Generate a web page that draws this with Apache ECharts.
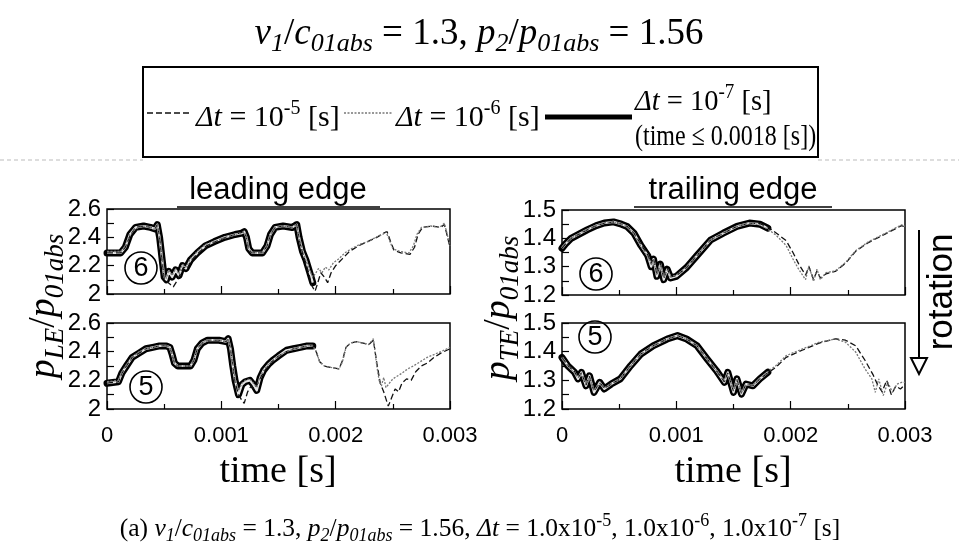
<!DOCTYPE html>
<html>
<head>
<meta charset="utf-8">
<script src="https://cdn.jsdelivr.net/npm/echarts@6/dist/echarts.min.js"></script>
<style>
  html, body { margin: 0; padding: 0; background: #fff; }
  #chart { width: 959px; height: 549px; }
</style>
</head>
<body>
<div id="chart"></div>
<script>
// ---- time axis ticks (s) ----
const timeTicks = [0, 0.001, 0.002, 0.003];

// ---- leading edge, blade (6): [time s, p_LE/p_01abs] ----
const leTop_dt7 = [[0,2.29],[0.00012,2.29],[0.00016,2.33],[0.0002,2.42],[0.00025,2.47],[0.00032,2.48],[0.00038,2.47],[0.00042,2.46],[0.00044,2.49],[0.00046,2.40],[0.00048,2.26],[0.0005,2.12],[0.00052,2.10],[0.00054,2.16],[0.00057,2.12],[0.0006,2.17],[0.00063,2.13],[0.00066,2.20],[0.00069,2.18],[0.00073,2.24],[0.00079,2.29],[0.00086,2.34],[0.00094,2.37],[0.00103,2.40],[0.00112,2.42],[0.00118,2.43],[0.0012,2.44],[0.00122,2.40],[0.00124,2.32],[0.00127,2.29],[0.00136,2.29],[0.0014,2.34],[0.00143,2.42],[0.00147,2.47],[0.00154,2.48],[0.00162,2.47],[0.00166,2.49],[0.00168,2.40],[0.00171,2.30],[0.00174,2.24],[0.00177,2.16],[0.0018,2.08]];
const leTop_dt6 = [[0,2.30],[0.00012,2.30],[0.00016,2.34],[0.0002,2.42],[0.00025,2.46],[0.00032,2.48],[0.00038,2.47],[0.00042,2.45],[0.00044,2.48],[0.00046,2.41],[0.00048,2.27],[0.0005,2.14],[0.00052,2.11],[0.00054,2.17],[0.00057,2.13],[0.0006,2.18],[0.00063,2.14],[0.00066,2.21],[0.00069,2.19],[0.00073,2.25],[0.00079,2.30],[0.00086,2.35],[0.00094,2.37],[0.00103,2.40],[0.00112,2.42],[0.00118,2.43],[0.0012,2.44],[0.00122,2.40],[0.00124,2.32],[0.00127,2.29],[0.00136,2.29],[0.0014,2.35],[0.00143,2.42],[0.00147,2.47],[0.00154,2.48],[0.00162,2.47],[0.00166,2.49],[0.00168,2.40],[0.00171,2.31],[0.00174,2.24],[0.00177,2.17],[0.0018,2.12],[0.00182,2.14],[0.00185,2.18],[0.00188,2.15],[0.00191,2.19],[0.00194,2.17],[0.00198,2.22],[0.00203,2.25],[0.00208,2.29],[0.00214,2.32],[0.00221,2.35],[0.00228,2.37],[0.00235,2.40],[0.00241,2.42],[0.00244,2.44],[0.00247,2.38],[0.0025,2.32],[0.00256,2.30],[0.00264,2.29],[0.00268,2.34],[0.00271,2.42],[0.00275,2.47],[0.00283,2.48],[0.00291,2.47],[0.00295,2.50],[0.00297,2.44],[0.003,2.34]];
const leTop_dt5 = [[0,2.29],[0.00012,2.29],[0.00016,2.33],[0.0002,2.41],[0.00025,2.47],[0.00032,2.48],[0.00038,2.47],[0.00042,2.46],[0.00044,2.49],[0.00046,2.40],[0.00048,2.25],[0.0005,2.11],[0.00052,2.09],[0.00055,2.07],[0.00058,2.05],[0.00061,2.09],[0.00064,2.14],[0.00067,2.19],[0.0007,2.18],[0.00074,2.24],[0.0008,2.29],[0.00087,2.34],[0.00095,2.37],[0.00104,2.40],[0.00112,2.42],[0.0012,2.44],[0.00122,2.40],[0.00124,2.31],[0.00127,2.29],[0.00136,2.29],[0.0014,2.34],[0.00143,2.42],[0.00147,2.47],[0.00154,2.48],[0.00162,2.47],[0.00166,2.49],[0.00168,2.39],[0.00171,2.29],[0.00174,2.22],[0.00177,2.13],[0.00179,2.06],[0.00182,2.02],[0.00184,2.07],[0.00187,2.15],[0.0019,2.12],[0.00193,2.08],[0.00196,2.15],[0.002,2.20],[0.00206,2.25],[0.00212,2.30],[0.0022,2.34],[0.00228,2.37],[0.00236,2.40],[0.00242,2.43],[0.00245,2.44],[0.00248,2.37],[0.00251,2.31],[0.00257,2.29],[0.00265,2.28],[0.00269,2.33],[0.00272,2.42],[0.00276,2.47],[0.00284,2.48],[0.00292,2.47],[0.00295,2.49],[0.00297,2.43],[0.003,2.33]];

// ---- leading edge, blade (5) ----
const leBot_dt7 = [[0,2.18],[0.0001,2.19],[0.00013,2.25],[0.00017,2.30],[0.00022,2.36],[0.00028,2.39],[0.00034,2.42],[0.0004,2.43],[0.00046,2.44],[0.00052,2.44],[0.00055,2.43],[0.00057,2.38],[0.00059,2.32],[0.00062,2.30],[0.00073,2.30],[0.00076,2.34],[0.00079,2.42],[0.00083,2.46],[0.00088,2.48],[0.00098,2.48],[0.00104,2.47],[0.00106,2.49],[0.00108,2.42],[0.0011,2.30],[0.00112,2.20],[0.00115,2.10],[0.00118,2.17],[0.00121,2.19],[0.00125,2.20],[0.00128,2.17],[0.00131,2.13],[0.00134,2.22],[0.00137,2.27],[0.00141,2.31],[0.00145,2.34],[0.0015,2.37],[0.00157,2.41],[0.00163,2.42],[0.00169,2.43],[0.00175,2.44],[0.0018,2.44]];
const leBot_dt6 = [[0,2.19],[0.0001,2.20],[0.00013,2.26],[0.00017,2.31],[0.00022,2.36],[0.00028,2.40],[0.00034,2.42],[0.0004,2.43],[0.00046,2.44],[0.00052,2.44],[0.00055,2.43],[0.00057,2.38],[0.00059,2.32],[0.00062,2.30],[0.00073,2.30],[0.00076,2.35],[0.00079,2.42],[0.00083,2.46],[0.00088,2.48],[0.00098,2.48],[0.00104,2.47],[0.00106,2.49],[0.00108,2.42],[0.0011,2.31],[0.00112,2.21],[0.00115,2.13],[0.00118,2.18],[0.00121,2.20],[0.00125,2.21],[0.00128,2.18],[0.00131,2.15],[0.00134,2.23],[0.00137,2.27],[0.00141,2.31],[0.00145,2.34],[0.0015,2.37],[0.00157,2.40],[0.00163,2.42],[0.00169,2.43],[0.00175,2.44],[0.0018,2.44],[0.00183,2.40],[0.00186,2.33],[0.0019,2.30],[0.00196,2.29],[0.00203,2.28],[0.00206,2.33],[0.00209,2.43],[0.00213,2.46],[0.00218,2.47],[0.00224,2.46],[0.00229,2.45],[0.00233,2.49],[0.00236,2.30],[0.00238,2.20],[0.0024,2.16],[0.00242,2.22],[0.00244,2.15],[0.00247,2.18],[0.0025,2.21],[0.00254,2.23],[0.00258,2.25],[0.00263,2.28],[0.00268,2.30],[0.00274,2.33],[0.0028,2.36],[0.00286,2.38],[0.00292,2.40],[0.003,2.43]];
const leBot_dt5 = [[0,2.18],[0.0001,2.19],[0.00013,2.25],[0.00017,2.30],[0.00022,2.36],[0.00028,2.39],[0.00034,2.42],[0.0004,2.43],[0.00046,2.44],[0.00052,2.44],[0.00055,2.43],[0.00057,2.38],[0.00059,2.32],[0.00062,2.30],[0.00073,2.30],[0.00076,2.34],[0.00079,2.42],[0.00083,2.46],[0.00088,2.48],[0.00098,2.48],[0.00104,2.47],[0.00106,2.49],[0.00108,2.42],[0.0011,2.30],[0.00112,2.19],[0.00115,2.10],[0.00118,2.06],[0.0012,2.04],[0.00123,2.12],[0.00126,2.16],[0.00129,2.14],[0.00132,2.18],[0.00135,2.23],[0.00139,2.28],[0.00144,2.33],[0.0015,2.37],[0.00157,2.40],[0.00163,2.42],[0.00169,2.43],[0.00175,2.44],[0.0018,2.44],[0.00183,2.40],[0.00186,2.33],[0.0019,2.30],[0.00196,2.29],[0.00203,2.28],[0.00206,2.34],[0.00209,2.43],[0.00213,2.46],[0.00218,2.47],[0.00224,2.46],[0.00229,2.45],[0.00233,2.48],[0.00236,2.32],[0.00239,2.18],[0.00242,2.12],[0.00246,2.02],[0.00249,2.08],[0.00252,2.14],[0.00255,2.12],[0.00258,2.18],[0.00262,2.21],[0.00266,2.20],[0.0027,2.26],[0.00275,2.30],[0.0028,2.32],[0.00286,2.36],[0.00292,2.39],[0.003,2.42]];

// ---- trailing edge, blade (6): [time s, p_TE/p_01abs] ----
const teTop_dt7 = [[0,1.365],[0.00003,1.38],[0.00008,1.40],[0.00015,1.415],[0.00022,1.43],[0.0003,1.445],[0.00037,1.454],[0.00045,1.458],[0.00052,1.45],[0.00057,1.442],[0.00063,1.418],[0.00069,1.375],[0.00075,1.339],[0.00078,1.30],[0.0008,1.327],[0.00083,1.266],[0.00086,1.309],[0.00089,1.254],[0.00092,1.291],[0.00095,1.26],[0.001,1.266],[0.00109,1.297],[0.00118,1.339],[0.0013,1.394],[0.00141,1.418],[0.00153,1.442],[0.00164,1.454],[0.00173,1.45],[0.0018,1.436]];
const teTop_dt6 = [[0,1.37],[0.00003,1.383],[0.00008,1.40],[0.00015,1.417],[0.00022,1.432],[0.0003,1.446],[0.00037,1.455],[0.00045,1.457],[0.00052,1.449],[0.00057,1.44],[0.00063,1.415],[0.00069,1.372],[0.00075,1.335],[0.00078,1.305],[0.0008,1.322],[0.00083,1.272],[0.00086,1.304],[0.00089,1.262],[0.00092,1.288],[0.00095,1.265],[0.001,1.27],[0.00109,1.30],[0.00118,1.341],[0.0013,1.394],[0.00141,1.42],[0.00153,1.443],[0.00164,1.454],[0.00173,1.448],[0.0018,1.432],[0.00187,1.412],[0.00196,1.375],[0.00202,1.327],[0.00207,1.291],[0.00213,1.254],[0.00216,1.303],[0.0022,1.248],[0.00223,1.291],[0.00226,1.254],[0.00231,1.279],[0.00239,1.285],[0.00248,1.315],[0.00257,1.357],[0.00268,1.388],[0.00283,1.418],[0.00297,1.448],[0.003,1.442]];
const teTop_dt5 = [[0,1.365],[0.00003,1.38],[0.00008,1.40],[0.00015,1.415],[0.00022,1.43],[0.0003,1.445],[0.00037,1.454],[0.00045,1.458],[0.00052,1.45],[0.00057,1.442],[0.00063,1.418],[0.00069,1.378],[0.00075,1.342],[0.00078,1.31],[0.0008,1.33],[0.00083,1.27],[0.00086,1.312],[0.00089,1.258],[0.00092,1.294],[0.00095,1.264],[0.001,1.268],[0.00109,1.297],[0.00118,1.339],[0.0013,1.394],[0.00141,1.418],[0.00153,1.442],[0.00164,1.454],[0.00173,1.452],[0.0018,1.44],[0.00187,1.42],[0.00196,1.392],[0.00202,1.35],[0.00207,1.31],[0.00213,1.27],[0.00216,1.30],[0.0022,1.255],[0.00223,1.285],[0.00226,1.26],[0.00231,1.275],[0.00239,1.283],[0.00248,1.312],[0.00257,1.355],[0.00268,1.385],[0.00283,1.416],[0.00297,1.445],[0.003,1.44]];

// ---- trailing edge, blade (5) ----
const teBot_dt7 = [[0,1.38],[0.00005,1.351],[0.00011,1.328],[0.00014,1.305],[0.00017,1.328],[0.00021,1.281],[0.00024,1.316],[0.00028,1.258],[0.00033,1.293],[0.00037,1.27],[0.00043,1.287],[0.00051,1.305],[0.0006,1.351],[0.00069,1.392],[0.0008,1.421],[0.00092,1.444],[0.00101,1.456],[0.00109,1.444],[0.00118,1.421],[0.00127,1.374],[0.00135,1.334],[0.00142,1.293],[0.00145,1.328],[0.0015,1.258],[0.00153,1.305],[0.00157,1.252],[0.00161,1.287],[0.00167,1.281],[0.00173,1.305],[0.0018,1.328]];
const teBot_dt6 = [[0,1.375],[0.00005,1.35],[0.00011,1.325],[0.00014,1.31],[0.00017,1.322],[0.00021,1.287],[0.00024,1.31],[0.00028,1.265],[0.00033,1.29],[0.00037,1.274],[0.00043,1.288],[0.00051,1.306],[0.0006,1.35],[0.00069,1.39],[0.0008,1.42],[0.00092,1.443],[0.00101,1.455],[0.00109,1.445],[0.00118,1.42],[0.00127,1.375],[0.00135,1.336],[0.00142,1.298],[0.00145,1.322],[0.0015,1.265],[0.00153,1.30],[0.00157,1.258],[0.00161,1.285],[0.00167,1.283],[0.00173,1.306],[0.0018,1.33],[0.00187,1.351],[0.00196,1.386],[0.0021,1.409],[0.00225,1.433],[0.00239,1.444],[0.00248,1.433],[0.00257,1.398],[0.00265,1.34],[0.00271,1.305],[0.00274,1.258],[0.00277,1.305],[0.00281,1.247],[0.00285,1.293],[0.00289,1.258],[0.00293,1.287],[0.00297,1.293],[0.003,1.293]];
const teBot_dt5 = [[0,1.38],[0.00005,1.352],[0.00011,1.33],[0.00014,1.308],[0.00017,1.326],[0.00021,1.284],[0.00024,1.314],[0.00028,1.262],[0.00033,1.292],[0.00037,1.272],[0.00043,1.287],[0.00051,1.305],[0.0006,1.351],[0.00069,1.392],[0.0008,1.421],[0.00092,1.444],[0.00101,1.456],[0.00109,1.444],[0.00118,1.421],[0.00127,1.374],[0.00135,1.334],[0.00142,1.295],[0.00145,1.326],[0.0015,1.262],[0.00153,1.303],[0.00157,1.255],[0.00161,1.286],[0.00167,1.282],[0.00173,1.305],[0.0018,1.326],[0.00187,1.345],[0.00196,1.38],[0.0021,1.405],[0.00225,1.43],[0.00239,1.445],[0.00248,1.44],[0.00257,1.42],[0.00265,1.37],[0.00272,1.32],[0.00276,1.285],[0.0028,1.26],[0.00284,1.30],[0.00288,1.25],[0.00292,1.28],[0.00296,1.27],[0.003,1.285]];

// ---- value axis ranges ----
const leRange = { min: 2.0, max: 2.6, interval: 0.2 };
const teRange = { min: 1.2, max: 1.5, interval: 0.1 };

const SERIF = "'Liberation Serif', 'Times New Roman', serif";
const SANS = "'Liberation Sans', Arial, sans-serif";

const chart = echarts.init(document.getElementById('chart'), null, { renderer: 'canvas' });

// plot boxes: [left, top, width, height]
const boxes = [
  [107, 209, 343, 85],  // leading edge (6)
  [107, 323, 343, 86],  // leading edge (5)
  [562, 210, 343, 85],  // trailing edge (6)
  [562, 323, 343, 86]   // trailing edge (5)
];

const grids = boxes.map(b => ({
  left: b[0], top: b[1], width: b[2], height: b[3],
  show: true, borderColor: '#000', borderWidth: 1.5, backgroundColor: 'transparent'
}));

const xAxes = boxes.map((b, i) => ({
  type: 'value', gridIndex: i,
  min: timeTicks[0], max: timeTicks[timeTicks.length - 1], interval: 0.001,
  axisLine: { show: false },
  axisTick: { show: true, inside: true, length: 8, lineStyle: { color: '#000', width: 1.2 } },
  minorTick: { show: true, splitNumber: 2, length: 5, lineStyle: { color: '#000', width: 1.2 } },
  splitLine: { show: false },
  axisLabel: {
    show: i === 1 || i === 3, color: '#000', fontSize: 22, fontFamily: SANS, margin: 16,
    formatter: v => (v === 0 ? '0' : v.toFixed(3))
  }
}));

const yAxes = boxes.map((b, i) => {
  const r = i < 2 ? leRange : teRange;
  return {
    type: 'value', gridIndex: i, min: r.min, max: r.max, interval: r.interval,
    axisLine: { show: false },
    axisTick: { show: true, inside: true, length: 7, lineStyle: { color: '#000', width: 1.2 } },
    minorTick: { show: true, splitNumber: 2, length: 7, lineStyle: { color: '#000', width: 1.2 } },
    splitLine: { show: false },
    axisLabel: {
      color: '#000', fontSize: 24, fontFamily: SANS, margin: 6,
      formatter: v => (Math.abs(v - Math.round(v)) < 1e-9 ? String(Math.round(v)) : v.toFixed(1))
    }
  };
});

function panelSeries(idx, dt5, dt6, dt7) {
  const base = { type: 'line', xAxisIndex: idx, yAxisIndex: idx, showSymbol: false, symbol: 'none', silent: true, animation: false };
  return [
    Object.assign({}, base, { name: 'dt7', data: dt7, lineStyle: { color: '#000', width: 7, join: 'round', cap: 'round' }, z: 2 }),
    Object.assign({}, base, { name: 'dt7core', data: dt7, lineStyle: { color: '#e6e6e6', width: 2.2, join: 'round' }, z: 3 }),
    Object.assign({}, base, { name: 'dt5', data: dt5, lineStyle: { color: '#111', width: 1.3, type: [6, 3] }, z: 4 }),
    Object.assign({}, base, { name: 'dt6', data: dt6, lineStyle: { color: '#777', width: 1.3, type: [2, 1.5] }, z: 5 })
  ];
}

const series = [].concat(
  panelSeries(0, leTop_dt5, leTop_dt6, leTop_dt7),
  panelSeries(1, leBot_dt5, leBot_dt6, leBot_dt7),
  panelSeries(2, teTop_dt5, teTop_dt6, teTop_dt7),
  panelSeries(3, teBot_dt5, teBot_dt6, teBot_dt7)
);

// rich-text style set with subscript (b = italic sub, s = upright sub) and superscript (u)
function richSet(F, S, fam) {
  const c0 = 0.65 * F;
  const pad = (center, size) => [Math.max(0, Math.round(center - size / 2)), 0, 0, 0];
  const tok = (size, italic, center) => ({
    fontFamily: fam, fontSize: size, lineHeight: size, fontStyle: italic ? 'italic' : 'normal',
    verticalAlign: 'top', padding: pad(center, size), fill: '#000'
  });
  return {
    m: tok(F, false, c0),
    i: tok(F, true, c0),
    b: tok(S, true, c0 + 0.3 * F),
    s: tok(S, false, c0 + 0.3 * F),
    u: tok(S, false, c0 - 0.3 * F)
  };
}

function richText(x, y, text, F, S, fam, opts) {
  opts = opts || {};
  return {
    type: 'text', x: x, y: y, rotation: opts.rotation || 0, scaleX: opts.scaleX || 1, silent: true,
    style: {
      text: text, rich: richSet(F, S, fam), fontFamily: fam, fontSize: F, fill: '#000',
      align: opts.align || 'center', verticalAlign: 'middle'
    }
  };
}

function plainText(x, y, text, size, fam, opts) {
  opts = opts || {};
  return {
    type: 'text', x: x, y: y, rotation: opts.rotation || 0, scaleX: opts.scaleX || 1, silent: true,
    style: { text: text, fontFamily: fam, fontSize: size, fill: '#000', align: opts.align || 'center', verticalAlign: 'middle', fontStyle: opts.italic ? 'italic' : 'normal' }
  };
}

function circledNumber(cx, cy, label) {
  return [
    { type: 'circle', shape: { cx: cx, cy: cy, r: 16 }, style: { fill: 'none', stroke: '#000', lineWidth: 1.6 }, silent: true },
    plainText(cx, cy + 1, label, 27, SANS)
  ];
}

const graphics = [
  // heading
  richText(479, 28, '{i|v}{b|1}{m|/}{i|c}{b|01abs}{m| = 1.3, }{i|p}{b|2}{m|/}{i|p}{b|01abs}{m| = 1.56}', 37, 26, SERIF),

  // legend frame and samples
  { type: 'rect', shape: { x: 143, y: 67, width: 675, height: 90 }, style: { fill: 'none', stroke: '#000', lineWidth: 2 }, silent: true },
  { type: 'line', shape: { x1: 0, y1: 160, x2: 143, y2: 160 }, style: { stroke: '#bbb', lineWidth: 1, lineDash: [4, 3] }, silent: true },
  { type: 'line', shape: { x1: 818, y1: 160, x2: 959, y2: 160 }, style: { stroke: '#bbb', lineWidth: 1, lineDash: [4, 3] }, silent: true },
  { type: 'line', shape: { x1: 147, y1: 113, x2: 191, y2: 113 }, style: { stroke: '#111', lineWidth: 1.5, lineDash: [6, 3] }, silent: true },
  richText(196, 113, '{i|Δt}{m| = 10}{u|-5}{m| [s]}', 30, 20, SERIF, { align: 'left' }),
  { type: 'line', shape: { x1: 344, y1: 113, x2: 392, y2: 113 }, style: { stroke: '#777', lineWidth: 1.5, lineDash: [2, 1.5] }, silent: true },
  richText(396, 113, '{i|Δt}{m| = 10}{u|-6}{m| [s]}', 30, 20, SERIF, { align: 'left' }),
  { type: 'line', shape: { x1: 545, y1: 117, x2: 632, y2: 117 }, style: { stroke: '#000', lineWidth: 5 }, silent: true },
  richText(635, 97, '{i|Δt}{m| = 10}{u|-7}{m| [s]}', 30, 20, SERIF, { align: 'left', scaleX: 0.95 }),
  plainText(635, 137, '(time ≤ 0.0018 [s])', 30, SERIF, { align: 'left', scaleX: 0.8 }),

  // column headings
  plainText(278, 190, 'leading edge', 31, SANS),
  { type: 'line', shape: { x1: 177, y1: 207, x2: 380, y2: 207 }, style: { stroke: '#000', lineWidth: 1.5 }, silent: true },
  plainText(733, 190, 'trailing edge', 31, SANS),
  { type: 'line', shape: { x1: 634, y1: 207, x2: 832, y2: 207 }, style: { stroke: '#000', lineWidth: 1.5 }, silent: true },

  // value axis names
  richText(38, 306, '{i|p}{b|LE}{m|/}{i|p}{b|01abs}', 38, 27, SERIF, { rotation: Math.PI / 2 }),
  richText(493, 308, '{i|p}{b|TE}{m|/}{i|p}{b|01abs}', 38, 27, SERIF, { rotation: Math.PI / 2 }),

  // time axis names
  plainText(278, 472, 'time [s]', 38, SERIF),
  plainText(733, 472, 'time [s]', 38, SERIF),

  // rotation direction marker
  { type: 'line', shape: { x1: 919, y1: 230, x2: 919, y2: 358 }, style: { stroke: '#000', lineWidth: 2 }, silent: true },
  { type: 'polygon', shape: { points: [[911, 358], [927, 358], [919, 374]] }, style: { fill: '#fff', stroke: '#000', lineWidth: 2 }, silent: true },
  plainText(942, 292, 'rotation', 35, SANS, { rotation: Math.PI / 2 }),

  // caption
  richText(480, 525, '{m|(a) }{i|v}{b|1}{m|/}{i|c}{b|01abs}{m| = 1.3, }{i|p}{b|2}{m|/}{i|p}{b|01abs}{m| = 1.56, }{i|Δt}{m| = 1.0x10}{u|-5}{m|, 1.0x10}{u|-6}{m|, 1.0x10}{u|-7}{m| [s]}', 25.5, 18, SERIF)
]
  .concat(circledNumber(141, 268, '6'))
  .concat(circledNumber(146, 387, '5'))
  .concat(circledNumber(596, 274, '6'))
  .concat(circledNumber(595, 337, '5'));

chart.setOption({
  animation: false,
  backgroundColor: '#fff',
  textStyle: { fontFamily: SANS, color: '#000' },
  grid: grids,
  xAxis: xAxes,
  yAxis: yAxes,
  series: series,
  graphic: { elements: graphics }
});
</script>
</body>
</html>
